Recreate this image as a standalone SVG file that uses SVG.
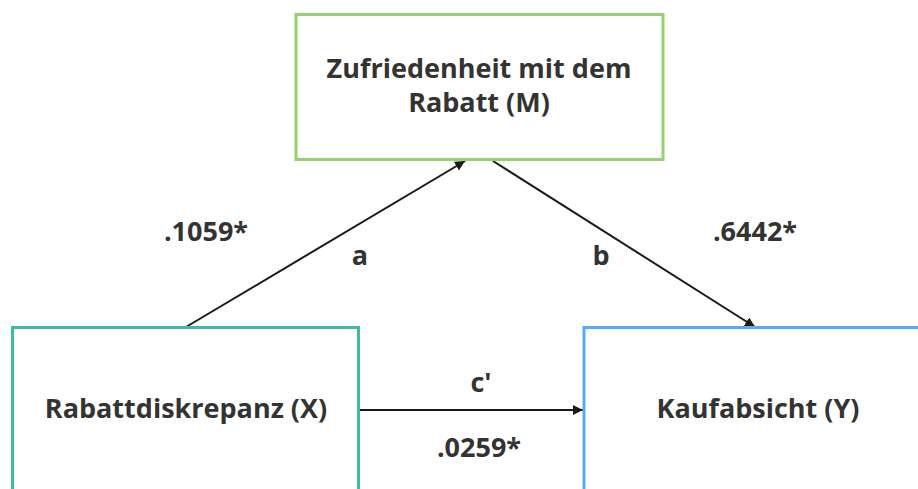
<svg xmlns="http://www.w3.org/2000/svg" width="918" height="489" viewBox="0 0 918 489">
  <defs>
    <marker id="arrow" viewBox="0 0 10 10" refX="10" refY="5" markerWidth="10" markerHeight="10" markerUnits="userSpaceOnUse" orient="auto">
      <path d="M0,0 L10,5 L0,10 z" fill="#1a1a1a"/>
    </marker>
    <style>
      .box { fill: #ffffff; stroke-width: 3; }
      .lbl { font-family: "Open Sans", "Noto Sans", "DejaVu Sans", sans-serif; font-weight: 700; font-size: 27px; fill: #333333; text-anchor: middle; }
      .edge { stroke: #1a1a1a; stroke-width: 2; fill: none; marker-end: url(#arrow); }
    </style>
  </defs>
  <rect width="918" height="489" fill="#ffffff"/>

  <g id="connectors">
    <line class="edge" x1="186" y1="327" x2="465" y2="161"/>
    <line class="edge" x1="493" y1="161" x2="755" y2="327"/>
    <line class="edge" x1="359" y1="410" x2="583" y2="410"/>
    <text class="lbl" x="206" y="241">.1059*</text>
    <text class="lbl" x="360" y="265">a</text>
    <text class="lbl" x="601" y="265">b</text>
    <text class="lbl" x="755" y="241">.6442*</text>
    <text class="lbl" x="481" y="392">c'</text>
    <text class="lbl" x="479" y="457">.0259*</text>
  </g>

  <g id="mediator">
    <rect class="box" x="296" y="14.5" width="367" height="145" stroke="#92d36e"/>
    <text class="lbl" x="479" y="78">Zufriedenheit mit dem</text>
    <text class="lbl" x="479" y="112">Rabatt (M)</text>
  </g>

  <g id="predictor">
    <rect class="box" x="12.5" y="327.5" width="346" height="170" stroke="#3dbd9f"/>
    <text class="lbl" x="186" y="418">Rabattdiskrepanz (X)</text>
  </g>

  <g id="outcome">
    <rect class="box" x="584" y="327.5" width="350" height="170" stroke="#56abf2"/>
    <text class="lbl" x="758" y="418">Kaufabsicht (Y)</text>
  </g>
</svg>
